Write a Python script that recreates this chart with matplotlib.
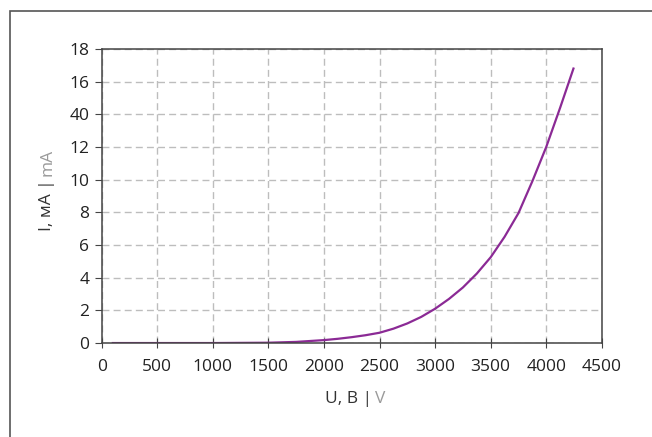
import matplotlib.pyplot as plt
from matplotlib.patches import Rectangle

# Data
U = [100, 500, 1000, 1500, 1750, 2000, 2125, 2250, 2375, 2500, 2625, 2750, 2875,
     3000, 3125, 3250, 3375, 3500, 3625, 3750, 3875, 4000, 4125, 4245]
I = [0.0, 0.0, 0.0, 0.02, 0.07, 0.18, 0.26, 0.36, 0.48, 0.63, 0.88, 1.2, 1.6,
     2.1, 2.7, 3.4, 4.25, 5.25, 6.5, 7.95, 9.9, 12.0, 14.4, 16.8]

X_TICKS = [0, 500, 1000, 1500, 2000, 2500, 3000, 3500, 4000, 4500]
Y_TICKS = [0, 2, 4, 6, 8, 10, 12, 14, 16, 18]
Y_TICK_LABELS = ["0", "2", "4", "6", "8", "10", "12", "40", "16", "18"]

TEXT = "#333333"
GREY = "#9a9a9a"
LINE = "#8b2a95"
FS = 12.5

plt.rcParams['font.family'] = ['Open Sans', 'DejaVu Sans']

fig = plt.figure(figsize=(6.52, 4.37), dpi=100)
ax = fig.add_axes([0.156, 0.215, 0.767, 0.673])

# frame around the picture (only top and left are visible)
fig.patches.append(Rectangle((9.5 / 652, -0.1), 1.2, (437 - 11) / 437 + 0.1,
                             transform=fig.transFigure, fill=False,
                             edgecolor="#555555", linewidth=1.2))

ax.plot(U, I, color=LINE, linewidth=1.6)

ax.set_xlim(0, 4500)
ax.set_ylim(0, 18)
ax.set_xticks(X_TICKS)
ax.set_yticks(Y_TICKS)
ax.set_yticklabels(Y_TICK_LABELS)

ax.grid(True, color="#bdbdbd", linestyle=(0, (5, 3)), linewidth=1)
ax.set_axisbelow(True)

for s in ax.spines.values():
    s.set_color("#444444")
    s.set_linewidth(1.1)

ax.tick_params(axis='x', direction='inout', length=7, labelsize=FS,
               colors="#444444", labelcolor="#222222", pad=8)
ax.tick_params(axis='y', direction='out', length=5, labelsize=FS,
               colors="#444444", labelcolor="#222222", pad=4)

# axis labels, two colours
xl = fig.text(0.5, 0.0, "U, В |", fontsize=FS, color=TEXT, ha='left', va='baseline')
xg = ax.annotate("V", xy=(1, 0), xycoords=xl, xytext=(2, 0), textcoords='offset points',
                 fontsize=FS, color=GREY, ha='left', va='bottom')
fig.canvas.draw()
r = fig.canvas.get_renderer()
w = xl.get_window_extent(r).width + xg.get_window_extent(r).width + 3
xl.set_position(((355 - w / 2) / 652, (437 - 403) / 437))

yl = fig.text(51 / 652, 0.5, "I, мА |", fontsize=FS, color=TEXT, rotation=90,
              ha='left', va='baseline', rotation_mode='anchor')
yg = ax.annotate("mA", xy=(0, 1), xycoords=yl, xytext=(0, 2), textcoords='offset points',
                 fontsize=FS, color=GREY, rotation=90, ha='left', va='bottom')
fig.canvas.draw()
h = yl.get_window_extent(r).height + yg.get_window_extent(r).height + 3
yl.set_position((51 / 652, (437 - 190 - h / 2) / 437))

fig.savefig("out.png", dpi=100)
